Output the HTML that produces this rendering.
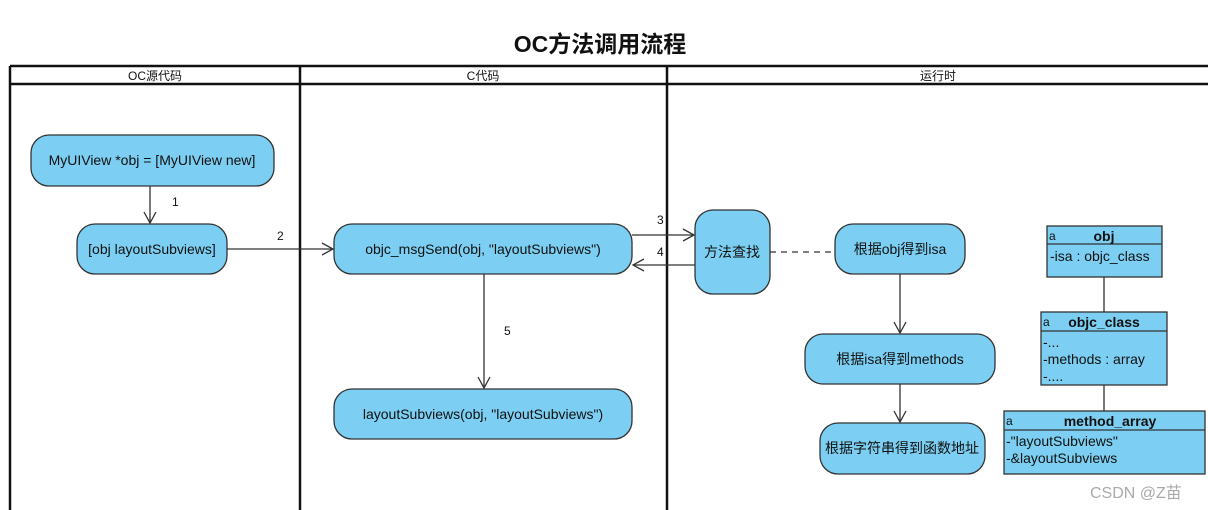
<!DOCTYPE html>
<html><head><meta charset="utf-8"><style>
html,body{margin:0;padding:0;background:#fff;}
svg{display:block;}
text{font-family:"Liberation Sans","Noto Sans CJK SC",sans-serif;fill:#111;}
</style></head><body>
<svg width="1208" height="510" viewBox="0 0 1208 510" xmlns="http://www.w3.org/2000/svg">
<defs><marker id="ah" markerWidth="14" markerHeight="14" refX="12" refY="7" orient="auto" markerUnits="userSpaceOnUse"><path d="M1,1 L12,7 L1,13" fill="none" stroke="#333" stroke-width="1.3"/></marker></defs>
<text x="600" y="52" font-size="23" text-anchor="middle" font-weight="bold">OC方法调用流程</text>
<!-- swimlanes -->
<g stroke="#111" stroke-width="2.5" fill="none">
<line x1="10" y1="66" x2="1208" y2="66"/>
<line x1="10" y1="84" x2="1208" y2="84"/>
<line x1="10" y1="66" x2="10" y2="510"/>
<line x1="300" y1="66" x2="300" y2="510"/>
<line x1="667" y1="66" x2="667" y2="510"/>
</g>
<g font-size="12" text-anchor="middle">
<text x="155" y="80">OC源代码</text>
<text x="483" y="80">C代码</text>
<text x="938" y="80">运行时</text>
</g>
<!-- nodes -->
<g fill="#7ccff2" stroke="#333" stroke-width="1.3">
<rect x="31" y="135" width="243" height="51" rx="18"/>
<rect x="77" y="224" width="150" height="50" rx="18"/>
<rect x="334" y="224" width="298" height="50" rx="18"/>
<rect x="334" y="389" width="298" height="50" rx="18"/>
<rect x="695" y="210" width="75" height="84" rx="18"/>
<rect x="835" y="224" width="130" height="50" rx="18"/>
<rect x="805" y="334" width="190" height="50" rx="18"/>
<rect x="820" y="423" width="165" height="51" rx="18"/>
<rect x="1047" y="226" width="115" height="51"/>
<rect x="1041" y="312" width="126" height="73"/>
<rect x="1004" y="411" width="201" height="63"/>
</g>
<g font-size="14" text-anchor="middle">
<text x="152" y="165">MyUIView *obj = [MyUIView new]</text>
<text x="152" y="254">[obj layoutSubviews]</text>
<text x="483" y="254">objc_msgSend(obj, "layoutSubviews")</text>
<text x="483" y="419">layoutSubviews(obj, "layoutSubviews")</text>
<text x="732" y="257">方法查找</text>
<text x="900" y="254">根据obj得到isa</text>
<text x="900" y="364">根据isa得到methods</text>
<text x="902" y="453">根据字符串得到函数地址</text>
</g>
<!-- class boxes -->
<g stroke="#333" stroke-width="1.3">
<line x1="1047" y1="244" x2="1162" y2="244"/>
<line x1="1041" y1="331" x2="1167" y2="331"/>
<line x1="1004" y1="430" x2="1205" y2="430"/>
<line x1="1104" y1="277" x2="1104" y2="312"/>
<line x1="1104" y1="385" x2="1104" y2="411"/>
</g>
<g font-size="14">
<text x="1049" y="240" font-size="12">a</text>
<text x="1104" y="241" font-weight="bold" text-anchor="middle">obj</text>
<text x="1050" y="261">-isa : objc_class</text>
<text x="1043" y="326" font-size="12">a</text>
<text x="1104" y="327" font-weight="bold" text-anchor="middle">objc_class</text>
<text x="1043" y="347">-...</text>
<text x="1043" y="364">-methods : array</text>
<text x="1043" y="381">-....</text>
<text x="1006" y="425" font-size="12">a</text>
<text x="1110" y="426" font-weight="bold" text-anchor="middle">method_array</text>
<text x="1006" y="446">-"layoutSubviews"</text>
<text x="1006" y="463">-&amp;layoutSubviews</text>
</g>
<!-- connectors -->
<g stroke="#333" stroke-width="1.3" fill="none">
<line x1="150" y1="186" x2="150" y2="223" marker-end="url(#ah)"/>
<line x1="227" y1="249" x2="333" y2="249" marker-end="url(#ah)"/>
<line x1="632" y1="235" x2="694" y2="235" marker-end="url(#ah)"/>
<line x1="695" y1="265" x2="633" y2="265" marker-end="url(#ah)"/>
<line x1="484" y1="274" x2="484" y2="388" marker-end="url(#ah)"/>
<line x1="900" y1="274" x2="900" y2="333" marker-end="url(#ah)"/>
<line x1="900" y1="384" x2="900" y2="422" marker-end="url(#ah)"/>
<line x1="770" y1="252" x2="835" y2="252" stroke-dasharray="6,5"/>
</g>
<g font-size="12">
<text x="172" y="206">1</text>
<text x="277" y="240">2</text>
<text x="657" y="224">3</text>
<text x="657" y="256">4</text>
<text x="504" y="335">5</text>
</g>
<text x="1090" y="498" font-size="16" fill="#aaa" style="fill:#aaa">CSDN @Z苗</text>
</svg>
</body></html>
